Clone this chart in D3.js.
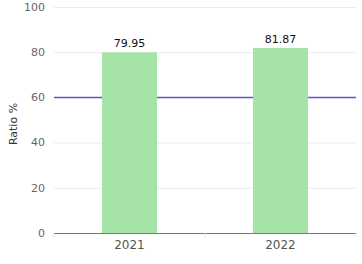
<!DOCTYPE html>
<html>
<head>
<meta charset="utf-8">
<script src="https://cdn.jsdelivr.net/npm/d3@7"></script>
<style>
  body { margin: 0; background: #fff; }
  svg { display: block; font-family: "DejaVu Sans", sans-serif; }
</style>
</head>
<body>
<div id="chart"></div>
<script>
// data
const years = ["2021", "2022"];
const ratios = [79.95, 81.87];
const yTicks = [0, 20, 40, 60, 80, 100];
const target = 60;

const width = 362, height = 264;
const margin = {top: 7, right: 6, bottom: 31, left: 54};

const svg = d3.select("#chart").append("svg")
    .attr("width", width)
    .attr("height", height);

const x = d3.scaleBand()
    .domain(years)
    .range([margin.left, width - margin.right])
    .paddingInner(0.636)
    .paddingOuter(0.318);

const y = d3.scaleLinear()
    .domain([0, 100])
    .range([height - margin.bottom, margin.top]);

// grid
svg.append("g")
  .selectAll("line")
  .data(yTicks.filter(d => d > 0))
  .join("line")
    .attr("x1", margin.left)
    .attr("x2", width - margin.right)
    .attr("y1", d => y(d) + 0.5)
    .attr("y2", d => y(d) + 0.5)
    .attr("stroke", "#ececec");

// y labels
svg.append("g")
  .selectAll("text")
  .data(yTicks)
  .join("text")
    .attr("x", margin.left - 9)
    .attr("y", d => y(d))
    .attr("dy", "0.35em")
    .attr("text-anchor", "end")
    .attr("fill", "#666")
    .style("font-size", "11px")
    .text(d => d);

svg.append("text")
    .attr("transform", `translate(17,${(y(0) + y(100)) / 2 + 4}) rotate(-90)`)
    .attr("text-anchor", "middle")
    .attr("fill", "#333")
    .style("font-size", "11px")
    .text("Ratio %");

// target line
svg.append("line")
    .attr("x1", margin.left)
    .attr("x2", width - margin.right)
    .attr("y1", y(target))
    .attr("y2", y(target))
    .attr("stroke", "#5a5ad2")
    .attr("stroke-width", 1.5);

// bars
svg.append("g")
  .selectAll("rect")
  .data(ratios)
  .join("rect")
    .attr("x", (d, i) => x(years[i]))
    .attr("width", x.bandwidth())
    .attr("y", d => y(d))
    .attr("height", d => y(0) - y(d))
    .attr("fill", "#a6e3a6");

// value labels
svg.append("g")
  .selectAll("text")
  .data(ratios)
  .join("text")
    .attr("x", (d, i) => x(years[i]) + x.bandwidth() / 2)
    .attr("y", d => y(d) - 5)
    .attr("text-anchor", "middle")
    .attr("fill", "#111")
    .style("font-size", "11px")
    .text(d => d.toFixed(2));

// x axis
const base = y(0);
svg.append("line")
    .attr("x1", margin.left)
    .attr("x2", width - margin.right)
    .attr("y1", base + 0.5)
    .attr("y2", base + 0.5)
    .attr("stroke", "#777");

const edges = [margin.left, margin.left + x.step(), width - margin.right];
svg.append("g")
  .selectAll("line")
  .data(edges)
  .join("line")
    .attr("x1", d => d)
    .attr("x2", d => d)
    .attr("y1", base)
    .attr("y2", base + 4)
    .attr("stroke", "#ddd");

svg.append("g")
  .selectAll("text")
  .data(years)
  .join("text")
    .attr("x", d => x(d) + x.bandwidth() / 2)
    .attr("y", base + 16)
    .attr("text-anchor", "middle")
    .attr("fill", "#555")
    .style("font-size", "12px")
    .text(d => d);
</script>
</body>
</html>
